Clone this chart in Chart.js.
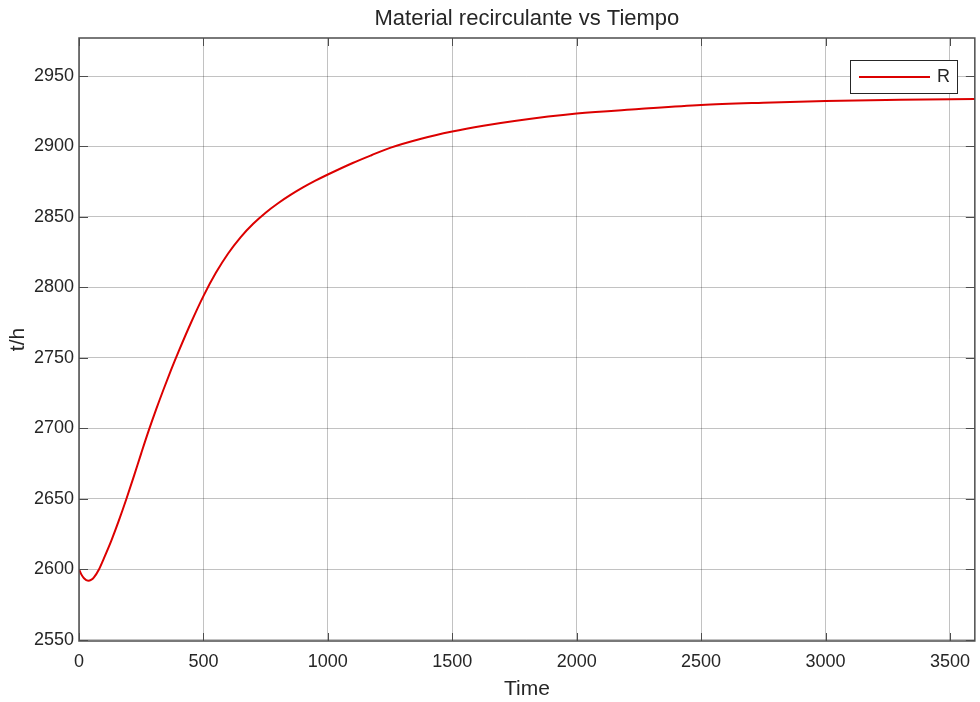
<!DOCTYPE html>
<html>
<head>
<meta charset="utf-8">
<title>Material recirculante vs Tiempo</title>
<script src="https://cdn.jsdelivr.net/npm/chart.js@4"></script>
<style>
  body { margin: 0; background: #fff; }
  #wrap { width: 980px; height: 702px; }
</style>
</head>
<body>
<div id="wrap"><canvas id="myChart" width="980" height="702"></canvas></div>
<script>
// data
const time = [0, 10, 20, 37, 50, 60, 80, 100, 130, 160, 190, 220, 250, 280, 310, 340, 370, 400, 450, 500, 550, 600, 650, 700, 750, 800, 850, 900, 950, 1000, 1100, 1175, 1250, 1375, 1500, 1625, 1750, 2000, 2250, 2500, 2750, 3000, 3300, 3600]
const R = [2600, 2596.1, 2593.5, 2591.7, 2592.5, 2594.1, 2599.8, 2607.7, 2620.3, 2634.4, 2649.6, 2665.7, 2682.2, 2698.3, 2713.4, 2727.7, 2741.4, 2754.4, 2774.9, 2793.8, 2810.3, 2824.2, 2835.7, 2845.1, 2853, 2859.7, 2865.6, 2870.9, 2875.7, 2880.1, 2888.3, 2893.8, 2899, 2905.5, 2910.6, 2914.7, 2918.1, 2923.4, 2926.6, 2929.5, 2931.1, 2932.3, 2933.1, 2933.7]
const xTicks = [0, 500, 1000, 1500, 2000, 2500, 3000, 3500]
const yTicks = [2550, 2600, 2650, 2700, 2750, 2800, 2850, 2900, 2950]
const title = 'Material recirculante vs Tiempo'

const FONT = "'Liberation Sans', Arial, sans-serif"
const TXT = '#262626'
const RED = '#dc0000'

// box around the axes, inner ticks, title over the axes and the legend, like matlab
const boxPlugin = {
  id: 'box',
  afterDraw(chart) {
    const c = chart.ctx
    const a = chart.chartArea
    const xs = chart.scales.x
    const ys = chart.scales.y
    c.save()
    c.strokeStyle = '#4d4d4d'
    c.lineWidth = 1
    xTicks.forEach(v => {
      const px = Math.round(xs.getPixelForValue(v)) + 0.5
      c.beginPath()
      c.moveTo(px, a.bottom); c.lineTo(px, a.bottom - 8)
      c.moveTo(px, a.top); c.lineTo(px, a.top + 8)
      c.stroke()
    })
    yTicks.forEach(v => {
      const py = Math.round(ys.getPixelForValue(v)) + 0.5
      c.beginPath()
      c.moveTo(a.left, py); c.lineTo(a.left + 9, py)
      c.moveTo(a.right, py); c.lineTo(a.right - 9, py)
      c.stroke()
    })
    c.lineWidth = 1.5
    c.strokeRect(a.left, a.top, a.right - a.left, a.bottom - a.top)

    // title
    c.fillStyle = TXT
    c.font = '22px ' + FONT
    c.textAlign = 'center'
    c.textBaseline = 'middle'
    c.fillText(title, (a.left + a.right) / 2, 19)

    // legend
    const lx = 850, ly = 60, lw = 107, lh = 33
    c.fillStyle = '#fff'
    c.fillRect(lx, ly, lw, lh)
    c.strokeStyle = '#262626'
    c.lineWidth = 1
    c.strokeRect(lx + 0.5, ly + 0.5, lw, lh)
    const ds = chart.data.datasets[0]
    c.strokeStyle = ds.borderColor
    c.lineWidth = 2
    c.beginPath()
    c.moveTo(859, ly + 17); c.lineTo(930, ly + 17)
    c.stroke()
    c.fillStyle = TXT
    c.font = '18px ' + FONT
    c.textAlign = 'left'
    c.fillText(ds.label, 937, ly + 17.5)
    c.restore()
  }
}

const ctx = document.getElementById('myChart')

new Chart(ctx, {
  type: 'line',
  data: {
    datasets: [{
      label: 'R',
      data: time.map((t, i) => ({ x: t, y: R[i] })),
      borderColor: RED,
      borderWidth: 2,
      pointRadius: 0,
      cubicInterpolationMode: 'monotone',
      fill: false
    }]
  },
  options: {
    responsive: false,
    animation: false,
    devicePixelRatio: 1,
    layout: { padding: { left: 0, right: 1, top: 38, bottom: 0 } },
    plugins: {
      legend: { display: false },
      tooltip: { enabled: false },
      title: { display: false }
    },
    scales: {
      x: {
        type: 'linear',
        min: 0,
        max: 3600,
        afterBuildTicks: s => { s.ticks = xTicks.map(v => ({ value: v })) },
        afterFit: s => { s.height = 61 },
        grid: { color: 'rgba(0,0,0,0.24)', drawTicks: false },
        border: { display: false },
        ticks: { color: TXT, font: { family: FONT, size: 18 }, padding: 10, maxRotation: 0, callback: v => String(v) },
        title: { display: true, text: 'Time', color: TXT, font: { family: FONT, size: 21 }, padding: { top: 0, bottom: 0 } }
      },
      y: {
        type: 'linear',
        min: 2549,
        max: 2977,
        afterBuildTicks: s => { s.ticks = yTicks.map(v => ({ value: v })) },
        afterFit: s => { s.width = 79 },
        grid: { color: 'rgba(0,0,0,0.24)', drawTicks: false },
        border: { display: false },
        ticks: { color: TXT, font: { family: FONT, size: 18 }, padding: 5, callback: v => String(v) },
        title: { display: true, text: 't/h', color: TXT, font: { family: FONT, size: 21 }, padding: { top: 6, bottom: 0 } }
      }
    }
  },
  plugins: [boxPlugin]
})
</script>
</body>
</html>
